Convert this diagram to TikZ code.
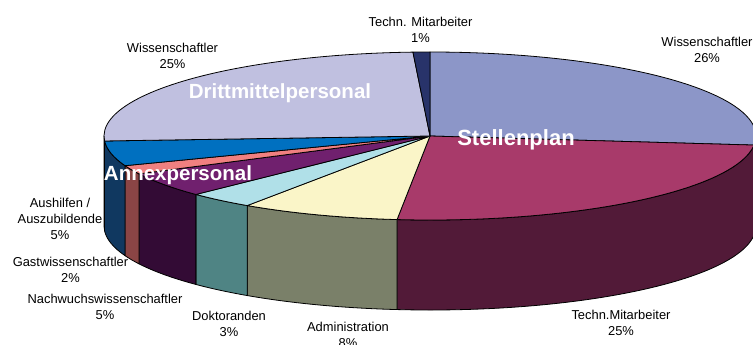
\documentclass[tikz,border=0pt]{standalone}
\usepackage{fontspec}
\setmainfont{Liberation Sans}
\definecolor{wsTop}{HTML}{8C96C8}
\definecolor{wsSide}{HTML}{4A5080}
\definecolor{tmTop}{HTML}{A83A6A}
\definecolor{tmSide}{HTML}{521A38}
\definecolor{adTop}{HTML}{FAF5C8}
\definecolor{adSide}{HTML}{7A8069}
\definecolor{doTop}{HTML}{B0E0E8}
\definecolor{doSide}{HTML}{4F8484}
\definecolor{naTop}{HTML}{70206E}
\definecolor{naSide}{HTML}{330B35}
\definecolor{gaTop}{HTML}{F08080}
\definecolor{gaSide}{HTML}{8A4545}
\definecolor{auTop}{HTML}{0070C0}
\definecolor{auSide}{HTML}{103860}
\definecolor{dmTop}{HTML}{C0C0E0}
\definecolor{dmSide}{HTML}{6A6A8A}
\definecolor{toTop}{HTML}{28336A}
\newcommand\pieTop[3]{%
  \filldraw[slice,fill=#1] (C) -- ++(#2:326 and 84)
    arc[start angle=#2,end angle=#3,x radius=326,y radius=84] -- cycle;}
\newcommand\pieSide[3]{%
  \filldraw[slice,fill=#1] (C) ++(#2:326 and 84)
    arc[start angle=#2,end angle=#3,x radius=326,y radius=84] -- ++(0,90)
    arc[start angle=#3,end angle=#2,x radius=326,y radius=84] -- cycle;}
\begin{document}
\begin{tikzpicture}[x=1pt,y=-1pt,
  slice/.style={draw=black,line width=0.8pt,line join=round},
  lbl/.style={anchor=base,align=center,inner sep=0pt,font=\fontsize{12.9}{16}\selectfont},
  big/.style={anchor=base,inner sep=0pt,text=white,font=\bfseries\fontsize{20.5}{24}\selectfont}]
\useasboundingbox (0,0) rectangle (753,345);
\coordinate (C) at (430,136);
% side walls
\pieSide{wsSide}{0}{6.2}
\pieSide{tmSide}{6.2}{95.8}
\pieSide{adSide}{95.8}{124.1}
\pieSide{doSide}{124.1}{135.9}
\pieSide{naSide}{135.9}{153.2}
\pieSide{gaSide}{153.2}{159.3}
\pieSide{auSide}{159.3}{176.6}
\pieSide{dmSide}{176.6}{180}
% top faces
\pieTop{wsTop}{-90}{6.2}
\pieTop{tmTop}{6.2}{95.8}
\pieTop{adTop}{95.8}{124.1}
\pieTop{doTop}{124.1}{135.9}
\pieTop{naTop}{135.9}{153.2}
\pieTop{gaTop}{153.2}{159.3}
\pieTop{auTop}{159.3}{176.6}
\pieTop{dmTop}{176.6}{267}
\pieTop{toTop}{267}{270}
% group labels
\node[big] (drittmittel) at (280,99) {Drittmittelpersonal};
\node[big,font=\bfseries\fontsize{22}{26}\selectfont] (stellenplan) at (516,146) {Stellenplan};
\node[big] (annex) at (178,180) {Annexpersonal};
% slice labels (anchored at the baseline of the last line)
\node[lbl] (lTechnEins) at (420.5,43) {Techn. Mitarbeiter\\1\%};
\node[lbl] (lWissDM) at (172.5,69) {Wissenschaftler\\25\%};
\node[lbl] (lWissSP) at (707,63) {Wissenschaftler\\26\%};
\node[lbl] (lTechn) at (621,335) {Techn.Mitarbeiter\\25\%};
\node[lbl] (lAdmin) at (348,347) {Administration\\8\%};
\node[lbl] (lDokt) at (229,336) {Doktoranden\\3\%};
\node[lbl] (lNach) at (105,319) {Nachwuchswissenschaftler\\5\%};
\node[lbl] (lGast) at (70.5,282) {Gastwissenschaftler\\2\%};
\node[lbl] (lAush) at (60,239) {Aushilfen /\\Auszubildende\\5\%};
\end{tikzpicture}
\end{document}
